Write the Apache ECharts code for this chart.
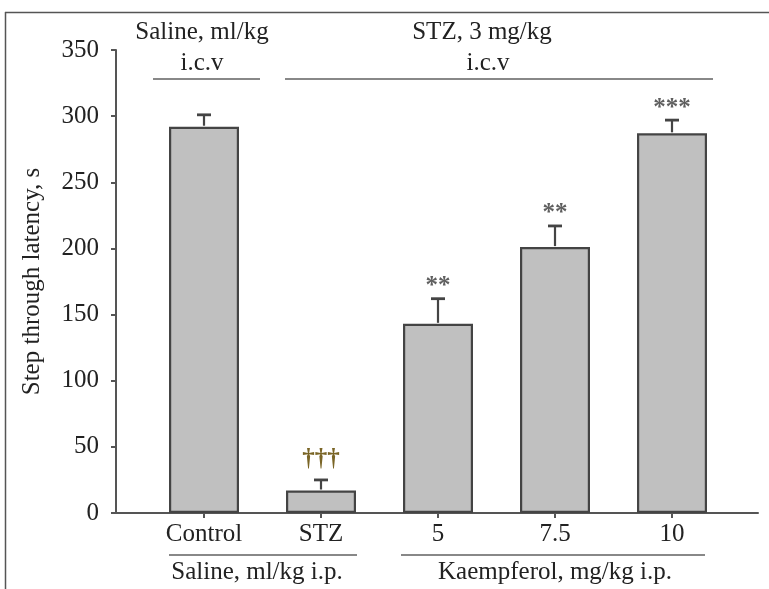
<!DOCTYPE html>
<html>
<head>
<meta charset="utf-8">
<script src="https://cdn.jsdelivr.net/npm/echarts@6/dist/echarts.min.js"></script>
<style>
html,body{margin:0;padding:0;background:#fff;}
#chart{width:769px;height:589px;}
</style>
</head>
<body>
<div id="chart"></div>
<script>
var categories = ['Control', 'STZ', '5', '7.5', '10'];
var means = [292, 17, 143, 201, 287];
var errorTops = [301, 25, 162, 217, 297];
var marks = ['', '\u2020\u2020\u2020', '**', '**', '***'];
var markColors = ['#666', '#7a6526', '#5f5f5f', '#5f5f5f', '#5f5f5f'];
var yTicks = { min: 0, max: 350, interval: 50 };

var FONT = 'Liberation Serif';
var TXT = '#222';

var chart = echarts.init(document.getElementById('chart'));

var errData = categories.map(function (c, i) { return [i, means[i], errorTops[i]]; });
var markData = categories.map(function (c, i) { return [i, errorTops[i], marks[i]]; });

var option = {
  animation: false,
  backgroundColor: '#fff',
  grid: [
    { left: 116, right: 11, top: 50, bottom: 76 },
    { left: 145.5, right: 38.5, top: 50, bottom: 76 }
  ],
  xAxis: [
    { type: 'value', gridIndex: 0, min: 0, max: 1,
      axisLine: { show: true, lineStyle: { color: '#555', width: 2 } },
      axisTick: { show: false }, axisLabel: { show: false }, splitLine: { show: false } },
    { type: 'category', gridIndex: 1, data: categories,
      axisLine: { show: false },
      axisTick: { show: true, alignWithLabel: true, length: 5, lineStyle: { color: '#555', width: 2 } },
      axisLabel: { show: true, margin: 9, fontFamily: FONT, fontSize: 25, color: TXT },
      splitLine: { show: false } }
  ],
  yAxis: [
    { type: 'value', gridIndex: 0, min: yTicks.min, max: yTicks.max, interval: yTicks.interval,
      name: 'Step through latency, s', nameLocation: 'middle', nameGap: 71,
      nameTextStyle: { fontFamily: FONT, fontSize: 25, color: TXT },
      axisLine: { show: true, lineStyle: { color: '#555', width: 2 } },
      axisTick: { show: true, length: 5, lineStyle: { color: '#555', width: 2 } },
      axisLabel: { margin: 17, fontFamily: FONT, fontSize: 25, color: TXT },
      splitLine: { show: false } },
    { type: 'value', gridIndex: 1, min: yTicks.min, max: yTicks.max, interval: yTicks.interval,
      show: false, splitLine: { show: false } }
  ],
  series: [
    { type: 'bar', xAxisIndex: 1, yAxisIndex: 1, data: means, barWidth: 70,
      itemStyle: { color: '#c0c0c0', borderColor: '#444', borderWidth: 2.2 }, z: 2 },
    { type: 'custom', xAxisIndex: 1, yAxisIndex: 1, data: errData, z: 3,
      renderItem: function (params, api) {
        var x = api.value(0);
        var base = api.coord([x, api.value(1)]);
        var top = api.coord([x, api.value(2)]);
        var hw = 7;
        return { type: 'group', children: [
          { type: 'line', shape: { x1: base[0], y1: base[1] - 1, x2: top[0], y2: top[1] },
            style: { stroke: '#444', lineWidth: 2.2 } },
          { type: 'line', shape: { x1: top[0] - hw, y1: top[1], x2: top[0] + hw, y2: top[1] },
            style: { stroke: '#444', lineWidth: 2.8 } }
        ] };
      } },
    { type: 'custom', xAxisIndex: 1, yAxisIndex: 1, data: markData, z: 4,
      renderItem: function (params, api) {
        var i = params.dataIndex;
        var p = api.coord([api.value(0), api.value(1)]);
        var isDagger = marks[i].indexOf('\u2020') >= 0;
        return { type: 'text', x: p[0], y: p[1] - (isDagger ? 20 : 12),
          style: { text: marks[i], fill: markColors[i], font: 'bold 25px "' + FONT + '"',
            align: 'center', verticalAlign: 'middle' } };
      } }
  ],
  graphic: [
    { type: 'line', shape: { x1: 5, y1: 12.5, x2: 769, y2: 12.5 }, style: { stroke: '#555', lineWidth: 1.5 } },
    { type: 'line', shape: { x1: 5.5, y1: 12, x2: 5.5, y2: 589 }, style: { stroke: '#555', lineWidth: 1.5 } },
    { type: 'text', x: 202, y: 32, style: { text: 'Saline, ml/kg', font: '25px "' + FONT + '"', fill: TXT, align: 'center', verticalAlign: 'middle' } },
    { type: 'text', x: 202, y: 63, style: { text: 'i.c.v', font: '25px "' + FONT + '"', fill: TXT, align: 'center', verticalAlign: 'middle' } },
    { type: 'line', shape: { x1: 153, y1: 79, x2: 260, y2: 79 }, style: { stroke: '#888', lineWidth: 2 } },
    { type: 'text', x: 482, y: 32, style: { text: 'STZ, 3 mg/kg', font: '25px "' + FONT + '"', fill: TXT, align: 'center', verticalAlign: 'middle' } },
    { type: 'text', x: 488, y: 63, style: { text: 'i.c.v', font: '25px "' + FONT + '"', fill: TXT, align: 'center', verticalAlign: 'middle' } },
    { type: 'line', shape: { x1: 285, y1: 79, x2: 713, y2: 79 }, style: { stroke: '#888', lineWidth: 2 } },
    { type: 'line', shape: { x1: 169, y1: 555, x2: 357, y2: 555 }, style: { stroke: '#888', lineWidth: 2 } },
    { type: 'text', x: 257, y: 572, style: { text: 'Saline, ml/kg i.p.', font: '25px "' + FONT + '"', fill: TXT, align: 'center', verticalAlign: 'middle' } },
    { type: 'line', shape: { x1: 401, y1: 555, x2: 705, y2: 555 }, style: { stroke: '#888', lineWidth: 2 } },
    { type: 'text', x: 555, y: 572, style: { text: 'Kaempferol, mg/kg i.p.', font: '25px "' + FONT + '"', fill: TXT, align: 'center', verticalAlign: 'middle' } }
  ]
};
chart.setOption(option);
</script>
</body>
</html>
